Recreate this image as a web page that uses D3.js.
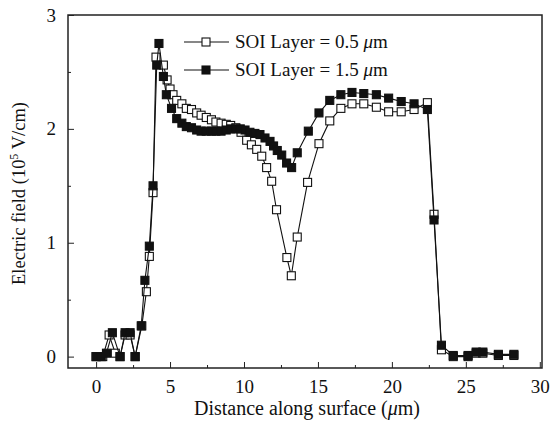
<!DOCTYPE html>
<html><head><meta charset="utf-8">
<script src="https://cdn.jsdelivr.net/npm/d3@7"></script>
<style>body{margin:0;background:#fff}svg{display:block}text{font-family:"Liberation Serif","Times New Roman",serif;fill:#111}</style>
</head><body>
<svg id="c" width="553" height="424"></svg>
<script>
// Data (distance in µm, electric field in 1e5 V/cm)
const seriesNames = ["SOI Layer = 0.5 \u03bcm", "SOI Layer = 1.5 \u03bcm"];
const xThin = [0,0.45,0.88,1.3,1.62,1.96,2.3,2.64,3.09,3.4,3.6,3.85,4.05,4.55,4.8,5.0,5.2,5.45,5.8,6.1,6.45,6.8,7.1,7.45,7.8,8.1,8.45,8.8,9.1,9.45,9.8,10.18,10.5,10.86,11.2,11.53,11.87,12.2,12.9,13.2,13.6,14.3,15.07,15.8,16.55,17.3,18.1,18.95,19.78,20.63,21.5,22.4,22.85,23.35,24.15,25.15,25.7,26.15,27.2,28.25];
const yThin = [0,0,0.19,0.03,0,0.19,0.19,0,0.27,0.57,0.88,1.44,2.63,2.56,2.43,2.35,2.30,2.25,2.22,2.18,2.17,2.14,2.12,2.10,2.08,2.06,2.05,2.04,2.03,2.01,1.97,1.90,1.86,1.82,1.76,1.66,1.54,1.29,0.87,0.71,1.05,1.53,1.87,2.07,2.18,2.22,2.22,2.19,2.15,2.15,2.17,2.23,1.25,0.06,0,0,0.03,0.03,0.01,0.01];
const xThick = [0,0.35,0.7,1.1,1.62,1.96,2.3,2.64,3.05,3.3,3.6,3.85,4.1,4.25,4.55,4.75,5.1,5.45,5.8,6.1,6.45,6.8,7.1,7.45,7.8,8.1,8.45,8.8,9.1,9.45,9.75,10.07,10.4,10.74,11.08,11.42,11.76,12.0,12.25,12.55,12.88,13.22,13.6,14.35,15.07,15.8,16.55,17.3,18.1,18.95,19.78,20.63,21.5,22.4,22.85,23.35,24.15,25.15,25.7,26.15,27.2,28.25];
const yThick = [0,0,0.03,0.21,0,0.21,0.21,0,0.27,0.67,0.97,1.5,2.56,2.75,2.46,2.30,2.18,2.09,2.05,2.02,2.01,1.99,1.98,1.98,1.98,1.98,1.98,1.99,2.0,2.0,2.0,1.99,1.97,1.96,1.95,1.92,1.89,1.85,1.81,1.77,1.70,1.66,1.79,1.98,2.14,2.25,2.30,2.32,2.31,2.30,2.27,2.24,2.22,2.17,1.2,0.10,0.01,0.01,0.04,0.04,0.02,0.02];
const xTicks = [0,5,10,15,20,25,30];
const yTicks = [0,1,2,3];

const svg = d3.select("#c");
const L=68, R=542, T=15, B=368;
const x = d3.scaleLinear().domain([-1.9,30.15]).range([L,R]);
const y = d3.scaleLinear().domain([-0.1,3]).range([B,T]);

// frame
svg.append("rect").attr("x",L).attr("y",T).attr("width",R-L).attr("height",B-T)
  .attr("fill","none").attr("stroke","#222").attr("stroke-width",1.5);

// x axis (ticks inward)
const xAx = d3.axisBottom(x).tickValues(xTicks).tickSize(-6).tickPadding(12).tickFormat(d3.format("d"));
const gx = svg.append("g").attr("transform",`translate(0,${B})`).call(xAx);
gx.select(".domain").remove();
gx.selectAll("text").attr("font-size",19).attr("fill","#111");
gx.selectAll("line").attr("stroke","#222");
const gxm = svg.append("g").attr("transform",`translate(0,${B})`)
  .call(d3.axisBottom(x).tickValues(d3.range(2.5,30,5)).tickSize(-3).tickFormat(""));
gxm.select(".domain").remove(); gxm.selectAll("line").attr("stroke","#222");

// y axis (ticks inward)
const yAx = d3.axisLeft(y).tickValues(yTicks).tickSize(-6).tickPadding(12).tickFormat(d3.format("d"));
const gy = svg.append("g").attr("transform",`translate(${L},0)`).call(yAx);
gy.select(".domain").remove();
gy.selectAll("text").attr("font-size",19).attr("fill","#111");
gy.selectAll("line").attr("stroke","#222");
const gym = svg.append("g").attr("transform",`translate(${L},0)`)
  .call(d3.axisLeft(y).tickValues([0.5,1.5,2.5]).tickSize(-3).tickFormat(""));
gym.select(".domain").remove(); gym.selectAll("line").attr("stroke","#222");

// axis titles
svg.append("text").attr("x",(L+R)/2+2).attr("y",415).attr("text-anchor","middle").attr("font-size",20)
  .html('Distance along surface (<tspan font-style="italic">\u03bc</tspan>m)');
const yl = svg.append("text").attr("transform",`translate(25,${(T+B)/2+2}) rotate(-90)`).attr("text-anchor","middle").attr("font-size",18.5);
yl.append("tspan").text("Electric field (10");
yl.append("tspan").text("5").attr("font-size",12).attr("dy",-7);
yl.append("tspan").text(" V/cm)").attr("dy",7);

// series
const line = d3.line().x(d=>x(d[0])).y(d=>y(d[1]));
const thin = xThin.map((v,i)=>[v,yThin[i]]);
const thick = xThick.map((v,i)=>[v,yThick[i]]);
const ms = 8;
function drawSeries(data, filled){
  svg.append("path").datum(data).attr("d",line).attr("fill","none").attr("stroke","#111").attr("stroke-width",1.1);
  svg.append("g").selectAll("rect").data(data).join("rect")
    .attr("x",d=>x(d[0])-ms/2).attr("y",d=>y(d[1])-ms/2).attr("width",ms).attr("height",ms)
    .attr("fill",filled?"#111":"#fff").attr("stroke","#111").attr("stroke-width",1.1);
}
drawSeries(thin,false);
drawSeries(thick,true);

// legend
const lg = svg.append("g");
[0,1].forEach(i=>{
  const yy = 42 + i*28;
  lg.append("line").attr("x1",184).attr("x2",229).attr("y1",yy).attr("y2",yy).attr("stroke","#111").attr("stroke-width",1.2);
  lg.append("rect").attr("x",206-ms/2).attr("y",yy-ms/2).attr("width",ms).attr("height",ms)
    .attr("fill",i?"#111":"#fff").attr("stroke","#111").attr("stroke-width",1.1);
  const t = lg.append("text").attr("x",235).attr("y",yy+6).attr("font-size",19);
  const parts = seriesNames[i].split("\u03bc");
  t.append("tspan").text(parts[0]);
  t.append("tspan").text("\u03bc").attr("font-style","italic");
  t.append("tspan").text(parts[1]);
});
</script>
</body></html>
